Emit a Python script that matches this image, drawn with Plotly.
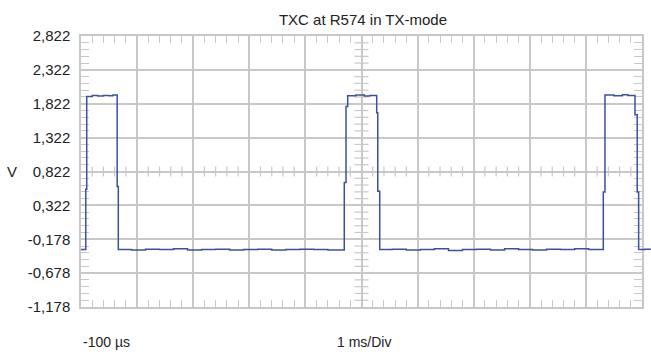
import plotly.graph_objects as go

# ---- data (time in ms, voltage in V) ----
time_ms = [
    -0.100, -0.015, 0.002, 0.10, 0.20, 0.30, 0.40, 0.47, 0.545, 0.565,
    0.80, 1.05, 1.30, 1.55, 1.80, 2.05, 2.30, 2.55, 2.80, 3.05, 3.30, 3.55, 3.80, 4.05, 4.30,
    4.593, 4.624, 4.654, 4.80, 4.95, 5.05, 5.171, 5.190, 5.225,
    5.45, 5.70, 5.95, 6.20, 6.45, 6.70, 6.95, 7.20, 7.45, 7.70, 7.95, 8.20, 8.45, 8.70, 8.95,
    9.210, 9.240, 9.40, 9.55, 9.65, 9.775, 9.815, 9.840, 9.95, 10.05,
]
volts = [
    -0.330, 0.560, 1.930, 1.945, 1.935, 1.945, 1.940, 1.950, 0.600, -0.330,
    -0.335, -0.325, -0.330, -0.320, -0.335, -0.330, -0.325, -0.335, -0.330, -0.325, -0.335, -0.330, -0.325, -0.330, -0.335,
    0.660, 1.780, 1.940, 1.950, 1.935, 1.945, 1.690, 0.530, -0.330,
    -0.325, -0.335, -0.330, -0.320, -0.345, -0.330, -0.325, -0.335, -0.320, -0.330, -0.335, -0.325, -0.330, -0.320, -0.330,
    0.520, 1.950, 1.940, 1.955, 1.945, 1.660, 0.520, -0.330, -0.325, -0.330,
]

y_ticks = [-1.178, -0.678, -0.178, 0.322, 0.822, 1.322, 1.822, 2.322, 2.822]
y_tick_labels = ["-1,178", "-0,678", "-0,178", "0,322", "0,822", "1,322", "1,822", "2,322", "2,822"]
x_start, x_div, n_div = -0.1, 1.0, 10

title_text = "TXC at R574 in TX-mode"
y_label = "V"
start_label = "-100 µs"
scale_label = "1 ms/Div"

GRID = "#c8c8c8"
TRACE = "#3c519d"
FONT = "Liberation Sans, Arial, sans-serif"

# layout geometry (pixels)
W, H = 651, 361
L, T, B = 81, 36, 54
FRAME_W = 561          # framed plot width
TRACE_W = 570          # trace may run slightly past the frame on the right
PLOT_H = H - T - B

x_end = x_start + n_div * x_div
x_mid = x_start + n_div * x_div / 2
y_mid = y_ticks[len(y_ticks) // 2]
frac = FRAME_W / TRACE_W
x_end_ext = x_start + (x_end - x_start) / frac

fig = go.Figure()
# invisible trace so the framed axes are drawn
fig.add_trace(go.Scatter(x=[x_start], y=[y_ticks[0]], mode="markers", marker=dict(opacity=0),
                         xaxis="x", yaxis="y", hoverinfo="skip", showlegend=False))
fig.add_trace(go.Scatter(x=time_ms, y=volts, mode="lines", xaxis="x2", yaxis="y2",
                         line=dict(color=TRACE, width=1.5, shape="hv"),
                         hoverinfo="skip", showlegend=False))

# centre-cross minor ticks
shapes = []
n_minor_x = n_div * 5
for k in range(1, n_minor_x):
    t = x_start + k * x_div / 5
    shapes.append(dict(type="line", xref="x", yref="y", ysizemode="pixel", yanchor=y_mid,
                       x0=t, x1=t, y0=-5, y1=5, line=dict(color=GRID, width=1.2), layer="below"))
y_step = (y_ticks[1] - y_ticks[0]) / 5
for k in range(1, (len(y_ticks) - 1) * 5):
    v = y_ticks[0] + k * y_step
    shapes.append(dict(type="line", xref="x", yref="y", xsizemode="pixel", xanchor=x_mid,
                       x0=-7, x1=7, y0=v, y1=v, line=dict(color=GRID, width=1.2), layer="below"))

label_y = -(342 - (H - B)) / PLOT_H
fig.update_layout(
    width=W, height=H,
    margin=dict(l=L, r=W - L - TRACE_W, t=T, b=B),
    paper_bgcolor="white", plot_bgcolor="rgba(0,0,0,0)",
    font=dict(family=FONT, size=14, color="#222222"),
    title=dict(text=title_text, x=363 / W, xanchor="center", xref="container",
               y=1 - 20 / H, yanchor="middle", yref="container",
               font=dict(family=FONT, size=15, color="#222222")),
    shapes=shapes,
    annotations=[
        dict(text=y_label, xref="paper", yref="paper", x=0, y=0.5, xanchor="center", yanchor="middle",
             xshift=-69, showarrow=False, font=dict(size=15)),
        dict(text=start_label, xref="paper", yref="paper", x=0, y=label_y, xanchor="left",
             yanchor="middle", showarrow=False, font=dict(size=14)),
        dict(text=scale_label, xref="paper", yref="paper", x=(364 - L) / TRACE_W, y=label_y,
             xanchor="center", yanchor="middle", showarrow=False, font=dict(size=14)),
    ],
    xaxis=dict(
        domain=[0, frac], anchor="y",
        range=[x_start, x_end], tick0=x_start, dtick=x_div, showticklabels=False,
        showgrid=True, gridcolor=GRID, gridwidth=1.5, zeroline=False,
        showline=True, linecolor=GRID, linewidth=1.5, mirror="ticks",
        ticks="inside", ticklen=7, tickcolor=GRID, tickwidth=1.2,
        minor=dict(tick0=x_start, dtick=x_div / 5, ticks="inside", ticklen=7, tickcolor=GRID,
                   tickwidth=1.2, showgrid=False),
        fixedrange=True,
    ),
    yaxis=dict(
        domain=[0, 1], anchor="x",
        range=[y_ticks[0], y_ticks[-1]], tickvals=y_ticks, ticktext=y_tick_labels,
        showgrid=True, gridcolor=GRID, gridwidth=1.5, zeroline=False,
        showline=True, linecolor=GRID, linewidth=1.5, mirror="ticks",
        ticks="inside", ticklen=8, tickcolor=GRID, tickwidth=1.2, ticklabelstandoff=6,
        minor=dict(tick0=y_ticks[0], dtick=y_step, ticks="inside", ticklen=8, tickcolor=GRID,
                   tickwidth=1.2, showgrid=False),
        tickfont=dict(size=15, color="#222222"),
        fixedrange=True,
    ),
    xaxis2=dict(domain=[0, 1], range=[x_start, x_end_ext], visible=False, anchor="y2", fixedrange=True),
    yaxis2=dict(domain=[0, 1], range=[y_ticks[0], y_ticks[-1]], visible=False, anchor="x2", fixedrange=True),
)

fig.write_html("out.html", config={"displayModeBar": False})
